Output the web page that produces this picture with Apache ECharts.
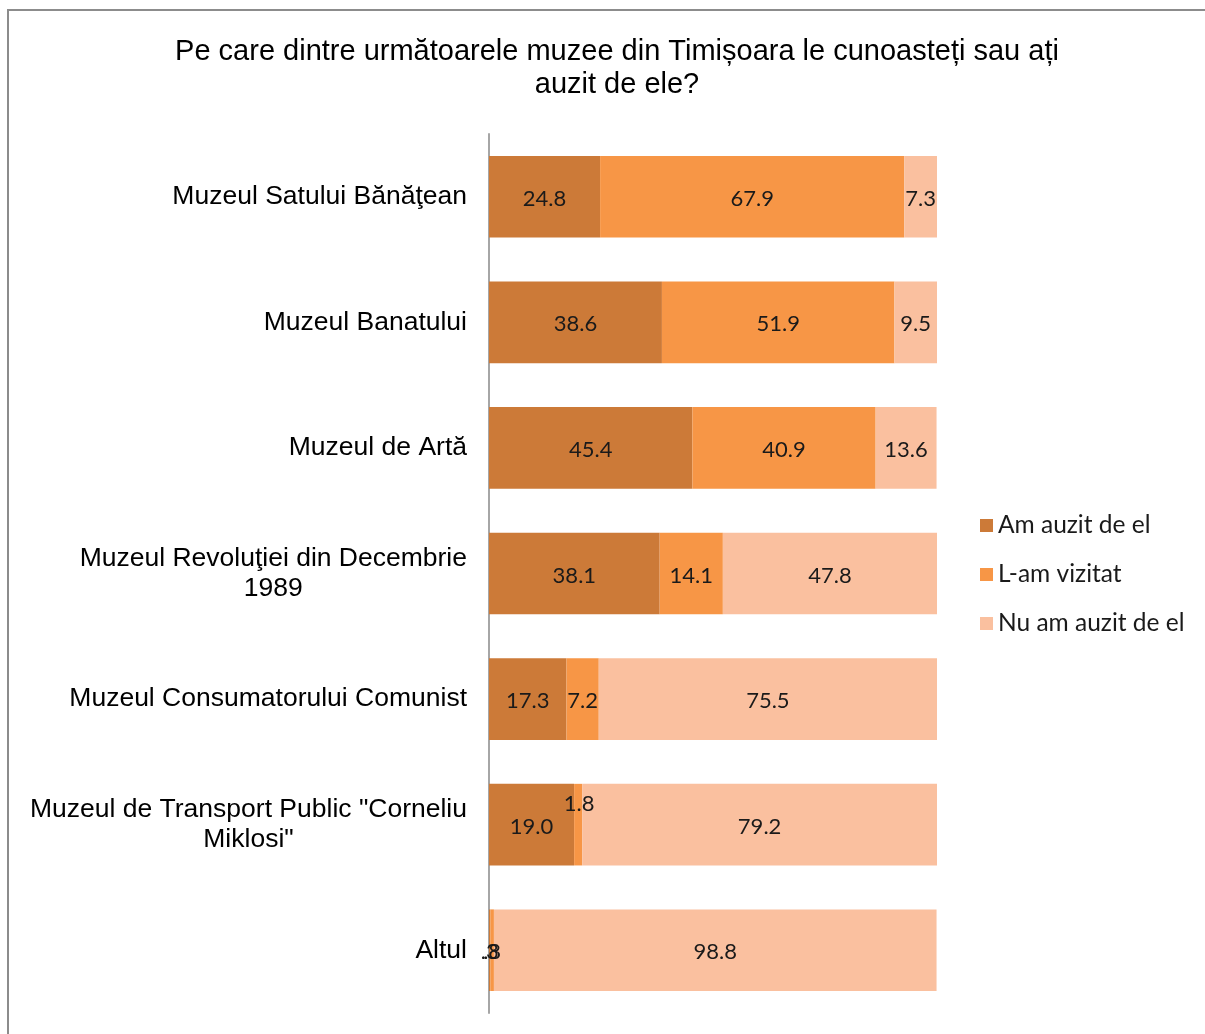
<!DOCTYPE html>
<html lang="ro">
<head>
  <meta charset="UTF-8">
  <title>Muzee Timișoara</title>
  <script src="https://cdn.jsdelivr.net/npm/echarts@6/dist/echarts.min.js"></script>
  <style>
    html, body { margin: 0; padding: 0; background: #fff; }
  </style>
</head>
<body>
  <div id="chart" style="width: 1205px; height: 1034px;"></div>
  <script>
    // date (procente)
    var categories = [
      'Muzeul Satului Bănăţean',
      'Muzeul Banatului',
      'Muzeul de Artă',
      'Muzeul Revoluţiei din Decembrie\n1989',
      'Muzeul Consumatorului Comunist',
      'Muzeul de Transport Public "Corneliu\nMiklosi"',
      'Altul'
    ];
    var seriesNames = ['Am auzit de el', 'L-am vizitat', 'Nu am auzit de el'];
    var amAuzit = [24.8, 38.6, 45.4, 38.1, 17.3, 19.0, 0.3];
    var vizitat = [67.9, 51.9, 40.9, 14.1, 7.2, 1.8, 0.8];
    var nuAmAuzit = [7.3, 9.5, 13.6, 47.8, 75.5, 79.2, 98.8];

    var colors = ['#CC7A38', '#F79646', '#FAC09F'];
    var labelFont = 'Lato, "Noto Sans", sans-serif';
    var arial = '"Liberation Sans", Arial, sans-serif';

    function fmt(p) {
      var s = p.value.toFixed(1);
      if (p.value < 1) s = s.substring(1);
      return s;
    }

    function mkSeries(name, values, idx) {
      return {
        name: name,
        type: 'bar',
        stack: 'total',
        barCategoryGap: '35%',
        itemStyle: { color: colors[idx] },
        label: {
          show: true,
          position: 'inside',
          offset: [0, 2],
          formatter: fmt,
          color: '#1a1a1a',
          fontFamily: labelFont,
          fontSize: 22
        },
        emphasis: { disabled: true },
        data: values.map(function (v, i) {
          // eticheta 1.8 e mutata in sus ca in original
          if (idx === 1 && i === 5) {
            return { value: v, label: { offset: [1, -21] } };
          }
          return v;
        })
      };
    }

    var chart = echarts.init(document.getElementById('chart'));
    chart.setOption({
      animation: false,
      title: {
        text: 'Pe care dintre următoarele muzee din Timișoara le cunoasteți sau ați\nauzit de ele?',
        left: 612,
        top: 30,
        textAlign: 'center',
        textStyle: {
          fontFamily: arial,
          fontSize: 29,
          fontWeight: 'normal',
          color: '#000',
          lineHeight: 33
        }
      },
      legend: {
        orient: 'vertical',
        left: 975,
        top: 508,
        icon: 'rect',
        itemWidth: 13,
        itemHeight: 13,
        itemGap: 24,
        itemTextGap: 9,
        textStyle: { fontFamily: labelFont, fontSize: 24.5, color: '#1a1a1a' },
        data: seriesNames
      },
      grid: { left: 489, top: 134, width: 448, height: 879, containLabel: false },
      xAxis: { type: 'value', min: 0, max: 100, show: false },
      yAxis: {
        type: 'category',
        inverse: true,
        data: categories,
        axisLine: { show: true, lineStyle: { color: '#A6A6A6', width: 2 } },
        axisTick: { show: false },
        axisLabel: {
          margin: 22,
          color: '#000',
          fontFamily: arial,
          fontSize: 26.5,
          lineHeight: 30,
          formatter: function (v) {
            return v.split('\n').map(function (l) { return '{c|' + l + '}'; }).join('\n');
          },
          rich: {
            c: {
              align: 'center',
              fontFamily: arial,
              fontSize: 26.5,
              lineHeight: 30,
              color: '#000'
            }
          }
        }
      },
      graphic: [{
        type: 'rect',
        shape: { x: 8, y: 10, width: 1230, height: 1050 },
        style: { fill: 'none', stroke: '#8C8C8C', lineWidth: 2 },
        silent: true
      }],
      series: [
        mkSeries(seriesNames[0], amAuzit, 0),
        mkSeries(seriesNames[1], vizitat, 1),
        mkSeries(seriesNames[2], nuAmAuzit, 2)
      ]
    });
  </script>
</body>
</html>
